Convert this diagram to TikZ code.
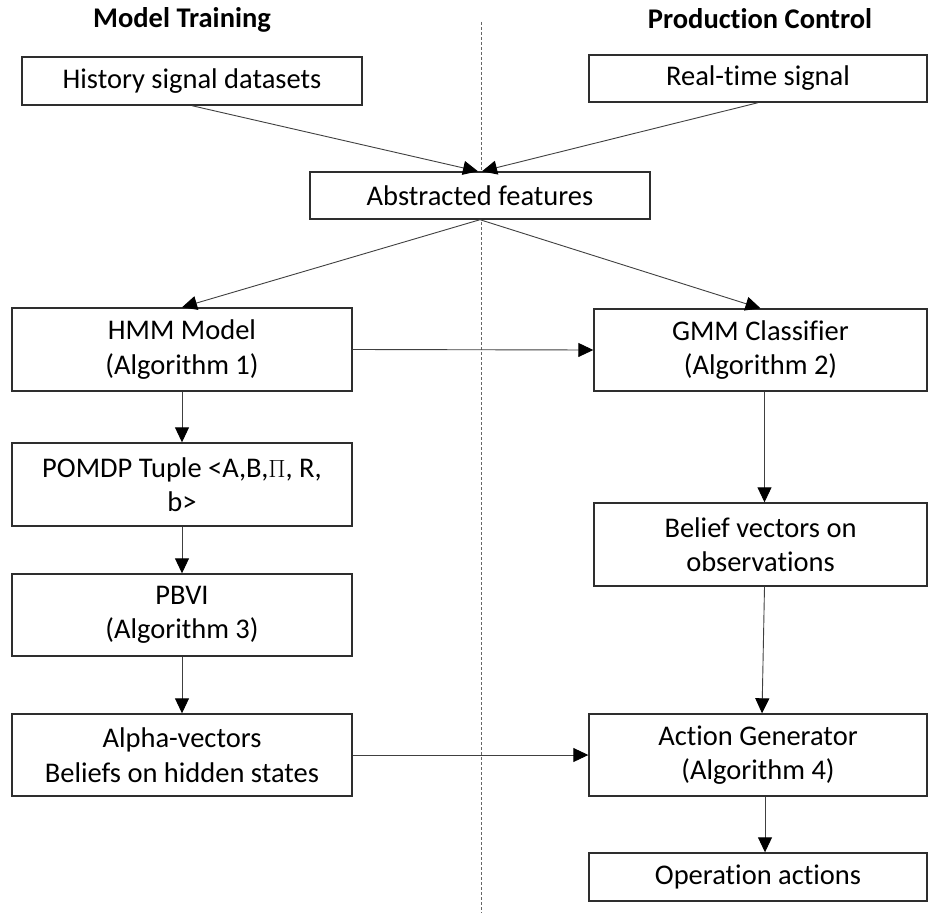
\documentclass[tikz,border=0pt]{standalone}
\usepackage{fontspec}
\setmainfont[Ligatures=NoCommon]{Carlito}
\usetikzlibrary{arrows.meta,calc}
\definecolor{boxline}{HTML}{2E2E2E}
\definecolor{arrline}{HTML}{404040}
\begin{document}
\begin{tikzpicture}[x=1pt,y=-1pt,
  box/.style={draw=boxline,line width=1.4pt,fill=white,rectangle,inner sep=2pt,align=center,
    font=\fontsize{28.5}{34.5}\selectfont},
  arr/.style={draw=arrline,line width=0.9pt,-{Triangle[length=15pt,width=14pt,color=black]}},
  title/.style={font=\fontsize{28.5}{32}\selectfont\bfseries},
  sep/.style={draw=gray!80!black,line width=0.8pt,dash pattern=on 3pt off 2pt}]
\useasboundingbox (0,0) rectangle (928,915);
\fill[white] (0,0) rectangle (928,915);
% separator
\coordinate (st) at (481,22);
\coordinate (sb) at (481,913);
\draw[sep] (st) -- (sb);
% titles
\node[title] (t1) at (182,20) {Model Training};
\node[title] (t2) at (760,19) {Production Control};
% boxes
\node[box,minimum width=340pt,minimum height=48pt] (hist) at (192,81) {History signal datasets};
\node[box,minimum width=338pt,minimum height=47pt] (rt) at (758,78.5) {Real-time signal};
\node[box,minimum width=340pt,minimum height=47pt] (abs) at (480,195.5) {Abstracted features};
\node[box,minimum width=340pt,minimum height=83pt] (hmm) at (182,349.5) {HMM Model\\(Algorithm 1)};
\node[box,minimum width=333pt,minimum height=82pt] (gmm) at (760.5,350) {GMM Classifier\\(Algorithm 2)};
\node[box,minimum width=340pt,minimum height=83pt] (pomdp) at (182,484.5) {POMDP Tuple <A,B,$\Pi$, R,\\b>};
\node[box,minimum width=333pt,minimum height=83pt] (belief) at (760.5,544.5) {Belief vectors on\\observations};
\node[box,minimum width=340pt,minimum height=82pt] (pbvi) at (182,615) {PBVI\\(Algorithm 3)};
\node[box,minimum width=340pt,minimum height=82pt] (alpha) at (182,755) {Alpha-vectors\\Beliefs on hidden states};
\node[box,minimum width=338pt,minimum height=82pt] (act) at (758,755) {Action Generator\\(Algorithm 4)};
\node[box,minimum width=338pt,minimum height=48pt] (op) at (758,877) {Operation actions};
% connectors
\draw[arr] (hist.south) -- ($(abs.north)+(-2,0)$);
\draw[arr] (rt.south) -- ($(abs.north)+(2,0)$);
\draw[arr] (abs.south) -- (hmm.north);
\draw[arr] (abs.south) -- (gmm.north);
\draw[arr] (hmm.east) -- (gmm.west);
\draw[arr] (hmm.south) -- (pomdp.north);
\draw[arr] (pomdp.south) -- (pbvi.north);
\draw[arr] (pbvi.south) -- (alpha.north);
\draw[arr] (alpha.east) -- (act.west);
\draw[arr] ($(gmm.south)+(4,0)$) -- ($(belief.north)+(4,0)$);
\draw[arr] ($(belief.south)+(4,0)$) -- ($(act.north)+(4,0)$);
\draw[arr] ($(act.south)+(7,0)$) -- ($(op.north)+(7,0)$);
\end{tikzpicture}
\end{document}
